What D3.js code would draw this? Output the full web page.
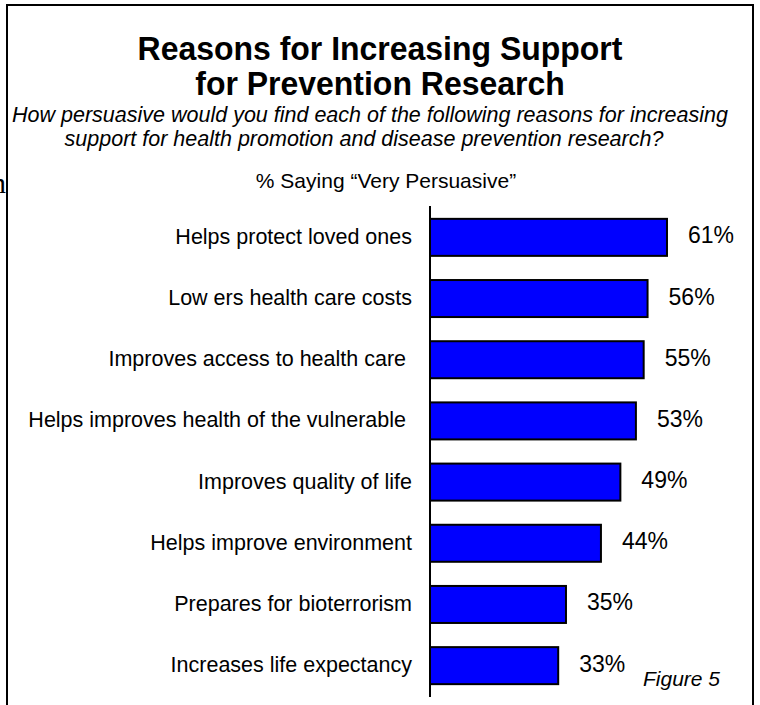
<!DOCTYPE html>
<html>
<head>
<meta charset="utf-8">
<script src="https://cdn.jsdelivr.net/npm/d3@7"></script>
<style>
  html, body { margin: 0; padding: 0; background: #fff; }
  svg { display: block; }
  text { font-family: "Liberation Sans", Arial, sans-serif; fill: #000; white-space: pre; }
</style>
</head>
<body>
<svg id="chart" width="760" height="705"></svg>
<script>
// Survey reasons, top to bottom, with the share saying "Very Persuasive"
const categories = [
  "Helps protect loved ones",
  "Low ers health care costs",
  "Improves access to health care ",
  "Helps improves health of the vulnerable ",
  "Improves quality of life",
  "Helps improve environment",
  "Prepares for bioterrorism",
  "Increases life expectancy"
];
const values = [61, 56, 55, 53, 49, 44, 35, 33];
const titleLines = ["Reasons for Increasing Support", "for Prevention Research"];
const subtitleLines = [
  "How persuasive would you find each of the following reasons for increasing",
  "support for health promotion and disease prevention research?"
];
const measureLabel = "% Saying \u201CVery Persuasive\u201D";
const figureLabel = "Figure 5";

const svg = d3.select("#chart");

// frame around the figure (runs past the bottom edge)
svg.append("rect")
  .attr("x", 7).attr("y", 5)
  .attr("width", 746).attr("height", 740)
  .attr("fill", "none").attr("stroke", "#000").attr("stroke-width", 2);

// stray glyph left of the frame
svg.append("text")
  .attr("x", 6).attr("y", 193)
  .attr("text-anchor", "end")
  .style("font-family", "'Liberation Serif', 'Times New Roman', serif")
  .style("font-size", "30px")
  .text("n");

// title: tall bold face, squeezed slightly to its line width
svg.selectAll("text.title").data(titleLines).join("text")
  .attr("class", "title")
  .attr("x", 380)
  .attr("y", (d, i) => 60 + i * 35)
  .attr("text-anchor", "middle")
  .style("font-size", "34px").style("font-weight", "bold")
  .text(d => d)
  .each(function () {
    const w = this.getComputedTextLength();
    d3.select(this).attr("textLength", w * 0.94).attr("lengthAdjust", "spacingAndGlyphs");
  });

// question text
svg.selectAll("text.sub").data(subtitleLines).join("text")
  .attr("class", "sub")
  .attr("x", (d, i) => 370 - i * 6)
  .attr("y", (d, i) => 122 + i * 24)
  .attr("text-anchor", "middle")
  .style("font-size", "21.5px").style("font-style", "italic")
  .text(d => d);

svg.append("text")
  .attr("x", 386).attr("y", 188)
  .attr("text-anchor", "middle")
  .style("font-size", "21px")
  .text(measureLabel);

// scales
const x = d3.scaleLinear().domain([0, 100]).range([430, 430 + 388.5]);
const y = d3.scaleBand()
  .domain(categories)
  .range([206, 697])
  .paddingInner(0.395)
  .paddingOuter(0.21);

// bars
svg.append("g").selectAll("rect").data(values).join("rect")
  .attr("x", x(0))
  .attr("y", (d, i) => y(categories[i]))
  .attr("width", d => x(d) - x(0))
  .attr("height", y.bandwidth())
  .attr("fill", "#0000FF")
  .attr("stroke", "#000")
  .attr("stroke-width", 2);

// category axis on the left
const yAxis = svg.append("g")
  .attr("transform", `translate(${x(0)},0)`)
  .call(d3.axisLeft(y).tickSize(0).tickPadding(18));
yAxis.select(".domain").remove();
yAxis.append("line")
  .attr("x1", 0).attr("x2", 0)
  .attr("y1", 206).attr("y2", 697)
  .attr("stroke", "#000").attr("stroke-width", 2);
yAxis.selectAll(".tick text")
  .attr("dy", "0.3em")
  .style("font-family", "'Liberation Sans', Arial, sans-serif")
  .style("font-size", "21.5px")
  .attr("fill", "#000");

// value labels
svg.append("g").selectAll("text").data(values).join("text")
  .attr("x", d => x(d) + 21)
  .attr("y", (d, i) => y(categories[i]) + y.bandwidth() / 2)
  .attr("dy", "0.26em")
  .style("font-size", "23px")
  .text(d => d + "%");

svg.append("text")
  .attr("x", 643).attr("y", 686)
  .style("font-size", "21px").style("font-style", "italic")
  .text(figureLabel);
</script>
</body>
</html>
